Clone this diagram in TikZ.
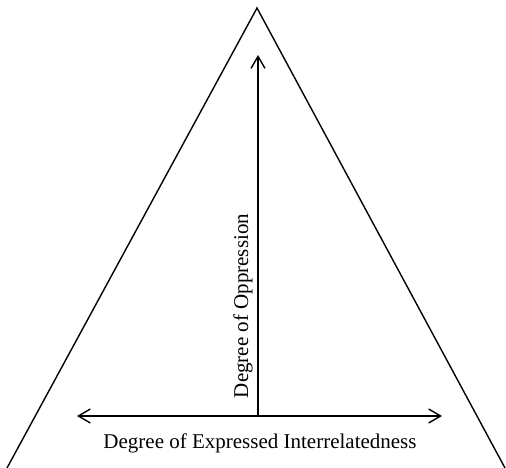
\documentclass[tikz,border=0pt]{standalone}
\usepackage{fontspec}
\setmainfont{Liberation Serif}
\usetikzlibrary{arrows.meta}
\begin{document}
\begin{tikzpicture}[x=1pt,y=-1pt,
  edge/.style={line width=1.4pt},
  axis/.style={line width=1.4pt,{Straight Barb[length=12pt,width=14pt,line width=1.4pt]}-{Straight Barb[length=12pt,width=14pt,line width=1.4pt]}},
  uparrow/.style={line width=1.4pt,-{Straight Barb[length=12pt,width=14pt,line width=1.4pt]}},
  lbl/.style={inner sep=0pt,anchor=base,font=\fontsize{21}{24}\selectfont}]
\useasboundingbox (0,0) rectangle (506,468);
\coordinate (apex) at (257,8);
\coordinate (bl) at (7,468);
\coordinate (br) at (505,468);
\draw[edge] (bl) -- (apex) -- (br);
\coordinate (hl) at (77,416);
\coordinate (hr) at (442,416);
\coordinate (vb) at (258,416);
\coordinate (vt) at (258,55);
\draw[axis] (hl) -- (hr);
\draw[uparrow] (vb) -- (vt);
\node[lbl,rotate=90] (oppr) at (248,306) {Degree of Oppression};
\node[lbl] (inter) at (260,448) {Degree of Expressed Interrelatedness};
\end{tikzpicture}
\end{document}
